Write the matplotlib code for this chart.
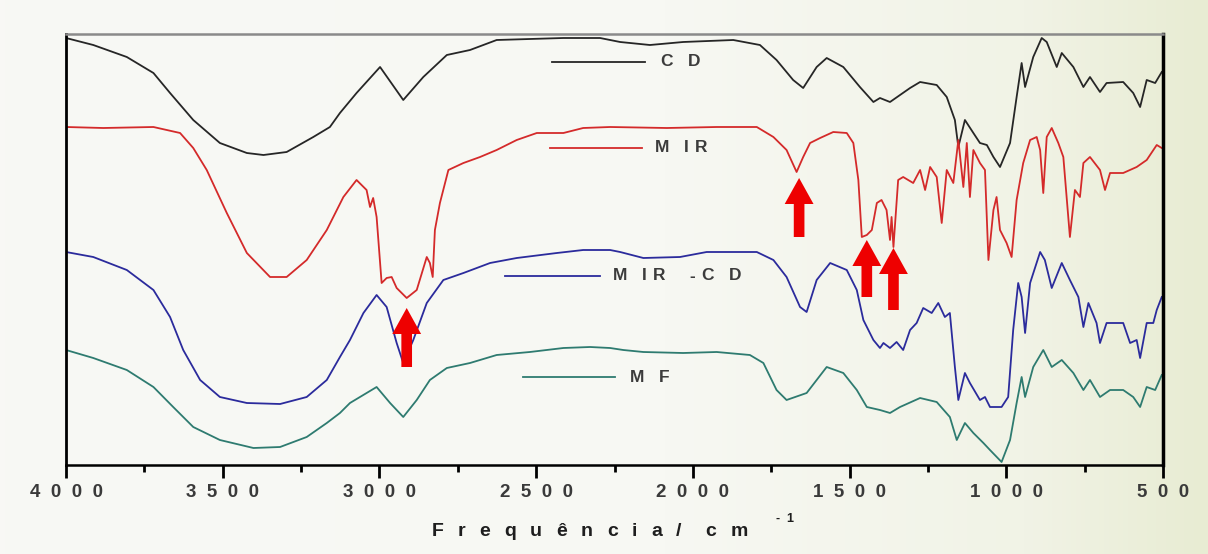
import numpy as np
import matplotlib
matplotlib.use("Agg")
import matplotlib.pyplot as plt
from matplotlib.colors import LinearSegmentedColormap
from matplotlib.transforms import Affine2D

# ---------------- data (wavenumber cm-1, relative transmittance, offset) ----------------
cd_w = [4000, 3913, 3806, 3721, 3668, 3594, 3509, 3423, 3370, 3296, 3211, 3158, 3126, 3073,
        2998, 2924, 2860, 2785, 2711, 2626, 2520, 2413, 2296, 2232, 2137, 2031, 1871, 1786,
        1733, 1680, 1648, 1605, 1573, 1520, 1467, 1424, 1403, 1371, 1339, 1307, 1275, 1222,
        1190, 1164, 1153, 1132, 1105, 1084, 1062, 1041, 1020, 988, 967, 951, 940, 914, 887,
        871, 839, 823, 786, 754, 733, 701, 680, 627, 595, 573, 552, 525, 504]
cd_t = [427, 420, 408, 392, 372, 345, 322, 312, 310, 313, 328, 338, 352, 372,
        398, 365, 388, 410, 415, 425, 426, 427, 427, 423, 420, 423, 425, 420,
        405, 385, 377, 398, 407, 398, 378, 363, 367, 363, 370, 377, 383, 380,
        368, 345, 318, 345, 332, 322, 320, 308, 298, 322, 368, 402, 378, 408, 427,
        423, 398, 412, 398, 378, 388, 373, 382, 383, 372, 358, 385, 382, 393]

mir_w = [4000, 3881, 3721, 3636, 3594, 3551, 3487, 3423, 3349, 3296, 3232, 3168, 3115, 3073,
         3041, 3030, 3020, 3009, 2993, 2977, 2961, 2945, 2913, 2881, 2849, 2839, 2830, 2823,
         2807, 2780, 2732, 2679, 2626, 2562, 2498, 2413, 2350, 2264, 2083, 1924, 1796, 1743,
         1701, 1669, 1648, 1626, 1594, 1552, 1509, 1488, 1472, 1461, 1445, 1429, 1413, 1398,
         1382, 1371, 1366, 1360, 1345, 1329, 1297, 1275, 1259, 1243, 1222, 1206, 1190, 1169,
         1153, 1137, 1126, 1116, 1105, 1084, 1068, 1057, 1041, 1031, 1020, 999, 983, 967, 946,
         924, 903, 892, 882, 871, 855, 834, 818, 797, 781, 765, 754, 733, 701, 685, 669, 627,
         584, 552, 520, 504]
mir_t = [338, 337, 338, 332, 317, 295, 252, 212, 188, 188, 205, 235, 268, 285,
         275, 258, 267, 248, 182, 187, 188, 177, 167, 175, 208, 202, 188, 235,
         262, 295, 302, 308, 315, 325, 332, 332, 337, 338, 337, 338, 338, 328,
         315, 293, 308, 322, 327, 333, 332, 322, 285, 228, 230, 235, 262, 265,
         255, 225, 248, 218, 285, 288, 282, 295, 275, 298, 288, 242, 295, 282,
         325, 278, 322, 268, 315, 302, 295, 205, 255, 268, 235, 222, 208, 265, 302,
         325, 328, 315, 272, 328, 337, 322, 308, 228, 275, 268, 302, 308, 295, 275, 292, 292,
         298, 305, 320, 317]

mircd_w = [4000, 3913, 3806, 3721, 3668, 3626, 3572, 3509, 3423, 3317, 3232, 3168, 3126, 3094,
           3051, 3009, 2977, 2945, 2924, 2892, 2849, 2796, 2732, 2647, 2562, 2434, 2350, 2264,
           2232, 2158, 2041, 1956, 1796, 1743, 1701, 1658, 1637, 1605, 1562, 1509, 1477, 1456,
           1424, 1403, 1392, 1371, 1350, 1329, 1307, 1286, 1265, 1238, 1217, 1196, 1180, 1164,
           1153, 1132, 1116, 1084, 1068, 1052, 1015, 994, 978, 962, 951, 940, 924, 892, 877,
           855, 823, 797, 770, 754, 738, 712, 701, 680, 627, 605, 584, 573, 552, 531, 520, 504]
mircd_t = [213, 208, 195, 175, 148, 115, 85, 68, 62, 61, 68, 85, 108, 125,
           152, 170, 158, 122, 102, 125, 162, 185, 192, 202, 207, 212, 215, 215,
           213, 207, 208, 213, 213, 205, 188, 158, 153, 185, 202, 195, 175, 145,
           125, 117, 122, 117, 123, 115, 135, 142, 157, 152, 162, 148, 152, 98,
           65, 92, 82, 65, 68, 58, 58, 68, 135, 182, 168, 132, 182, 213, 205,
           177, 202, 185, 168, 138, 162, 142, 122, 142, 142, 122, 125, 107, 142, 142, 155, 168]

mf_w = [4000, 3913, 3806, 3721, 3658, 3594, 3509, 3402, 3317, 3232, 3168, 3126, 3094, 3009,
        2966, 2924, 2881, 2839, 2785, 2711, 2626, 2520, 2413, 2328, 2264, 2222, 2158, 2031,
        1924, 1818, 1775, 1733, 1701, 1637, 1573, 1520, 1477, 1445, 1403, 1371, 1339, 1275,
        1222, 1180, 1158, 1132, 1105, 1073, 1052, 1015, 988, 967, 951, 940, 914, 882, 855,
        823, 786, 754, 733, 701, 669, 627, 595, 573, 552, 525, 504]
mf_t = [115, 107, 95, 78, 58, 38, 25, 17, 18, 28, 42, 52, 62, 78,
        62, 48, 65, 85, 97, 102, 110, 113, 117, 118, 117, 115, 113, 112,
        113, 110, 102, 75, 65, 72, 98, 92, 75, 58, 55, 52, 58, 67,
        63, 48, 25, 42, 32, 22, 15, 3, 25, 62, 88, 68, 98, 115, 98,
        105, 92, 75, 85, 68, 75, 75, 68, 58, 78, 75, 90]

series_names = ["C D", "M IR", "M IR  -C D", "M F"]
series_colors = ["#262626", "#d42a2a", "#2b2b9c", "#2e7b70"]

x_ticks = [4000, 3500, 3000, 2500, 2000, 1500, 1000, 500]
x_ticklabels = ["4  0  0  0", "3  5  0  0", "3  0  0  0", "2  5  0  0",
                "2  0  0  0", "1  5  0  0", "1  0  0  0", "5  0  0"]
x_minor = [3750, 3250, 2750, 2250, 1750, 1250, 750]

x_label = "Frequência/ cm"
x_label_exp = "-1"

# arrows: (wavenumber, tail level, tip level)
arrow_w = [2913, 1661, 1445, 1360]
arrow_tail = [98, 228, 168, 155]
arrow_tip = [157, 287, 225, 217]

# labels drawn next to each trace: line start, line end, level, text start
lab_w0 = [2450, 2456, 2599, 2542]
lab_w1 = [2153, 2163, 2296, 2248]
lab_lvl = [403, 317, 189, 88]
lab_txt_w = [2105, 2121, 2255, 2201]

# ---------------- figure ----------------
W, H = 1208, 554
fig = plt.figure(figsize=(W / 100, H / 100), dpi=100)
renderer = fig.canvas.get_renderer()


def spaced_text(x, y, s, base_transform, tracking, space, **kw):
    """Draw text with extra letter spacing (tracking in pixels)."""
    off = 0.0
    for ch in s:
        if ch == " ":
            off += space
            continue
        t = fig.text(x, y, ch, transform=base_transform + Affine2D().translate(off, 0), **kw)
        off += t.get_window_extent(renderer).width + tracking


# slide background gradient
bg = fig.add_axes([0, 0, 1, 1], zorder=-10)
cmap = LinearSegmentedColormap.from_list(
    "bg", [(0.0, "#f8f8f5"), (0.55, "#f7f8f3"), (0.85, "#f1f3e6"), (1.0, "#e8ecd3")])
grad = np.linspace(0, 1, 256).reshape(1, -1)
bg.imshow(grad, aspect="auto", cmap=cmap, extent=[0, 1, 0, 1])
bg.axis("off")

ax = fig.add_axes([66 / W, 1 - 465 / H, (1163 - 66) / W, (465 - 34) / H])
ax.patch.set_alpha(0)

for w, t, c in zip([cd_w, mir_w, mircd_w, mf_w], [cd_t, mir_t, mircd_t, mf_t], series_colors):
    ax.plot(w, t, color=c, lw=1.3)

ax.set_xlim(4000, 500)
ax.set_ylim(0, 431)

for name, c, w0, w1, lv, tw in zip(series_names, series_colors, lab_w0, lab_w1, lab_lvl, lab_txt_w):
    ax.plot([w0, w1], [lv, lv], color=c, lw=1.3)
    spaced_text(tw, lv, name, ax.transData, tracking=6, space=9,
                color="#3c3c3c", fontsize=12.5, fontweight="bold",
                family="Liberation Sans", ha="left", va="center")

for aw, t0, t1 in zip(arrow_w, arrow_tail, arrow_tip):
    ax.arrow(aw, t0, 0, t1 - t0, width=34, head_width=92, head_length=26,
             length_includes_head=True, color="#ee0000", ec="none", zorder=5)

ax.set_yticks([])
ax.set_xticks(x_ticks)
ax.set_xticklabels(x_ticklabels, fontsize=13.5, fontweight="bold",
                   family="Liberation Sans", color="#3a3a3a")
ax.set_xticks(x_minor, minor=True)
ax.tick_params(axis="x", which="major", direction="out", length=9, width=2, pad=5)
ax.tick_params(axis="x", which="minor", direction="out", length=5, width=2)

ax.spines["top"].set_color("#8a8a8a")
ax.spines["top"].set_linewidth(1.8)
ax.spines["left"].set_linewidth(2)
ax.spines["right"].set_linewidth(2.5)
ax.spines["bottom"].set_linewidth(1.8)

spaced_text(432 / W, 1 - 532 / H, x_label, fig.transFigure, tracking=14, space=10,
            fontsize=14, fontweight="bold", family="Liberation Sans", color="#1e1e1e",
            ha="left", va="center")
spaced_text(776 / W, 1 - 519 / H, x_label_exp, fig.transFigure, tracking=6, space=4,
            fontsize=9, fontweight="bold", family="Liberation Sans", color="#1e1e1e",
            ha="left", va="center")

fig.savefig("out.png", dpi=100)
